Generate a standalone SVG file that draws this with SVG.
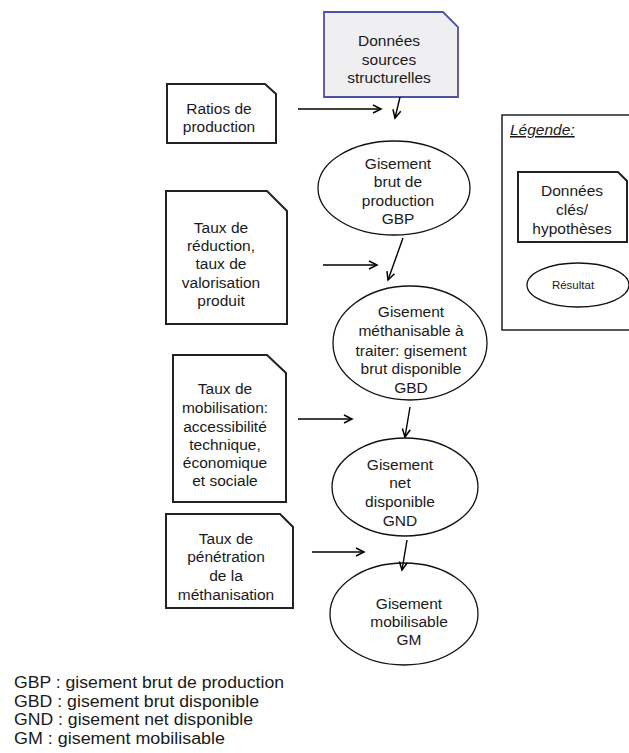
<svg xmlns="http://www.w3.org/2000/svg" width="629" height="753" viewBox="0 0 629 753">
<defs>
<marker id="arr" markerWidth="12" markerHeight="12" refX="9" refY="5" orient="auto" markerUnits="userSpaceOnUse">
<path d="M1,1 L9,5 L1,9" fill="none" stroke="#000" stroke-width="1.5"/>
</marker>
<style>
.doc{fill:#fff;stroke:#222;stroke-width:2}
.src{fill:#efeff2;stroke:#5050a8;stroke-width:1.8}
.ell{fill:#fff;stroke:#111;stroke-width:1.3}
.t{font-family:"Liberation Sans",Arial,sans-serif;font-size:15.5px;fill:#1a1a1a;text-anchor:middle;dominant-baseline:central}
.c{fill:none;stroke:#000;stroke-width:1.4;marker-end:url(#arr)}
.leg{font-family:"Liberation Sans",Arial,sans-serif;font-size:15.6px;fill:#1a1a1a}
</style>
</defs>
<rect width="629" height="753" fill="#fff"/>

<g id="n-sources">
<path class="src" d="M324,12 H443 L458,27 V97 H324 Z"/>
<text class="t" x="389" y="40">Données</text>
<text class="t" x="389" y="59">sources</text>
<text class="t" x="389" y="77">structurelles</text>
</g>

<g id="n-ratios">
<path class="doc" d="M167,84 H265 L276,94 V143 H167 Z"/>
<text class="t" x="219" y="108">Ratios de</text>
<text class="t" x="219" y="126">production</text>
</g>

<g id="n-gbp">
<ellipse class="ell" cx="394" cy="188" rx="76" ry="47"/>
<text class="t" x="398" y="163">Gisement</text>
<text class="t" x="398" y="181">brut  de</text>
<text class="t" x="398" y="200">production</text>
<text class="t" x="398" y="218">GBP</text>
</g>

<g id="n-reduction">
<path class="doc" d="M166,191 H267 L287,211 V324 H166 Z"/>
<text class="t" x="221" y="227">Taux de</text>
<text class="t" x="221" y="245">réduction,</text>
<text class="t" x="221" y="263">taux de</text>
<text class="t" x="221" y="282">valorisation</text>
<text class="t" x="221" y="300">produit</text>
</g>

<g id="n-gbd">
<ellipse class="ell" cx="410" cy="343" rx="77" ry="57"/>
<text class="t" x="411" y="311">Gisement</text>
<text class="t" x="411" y="330">méthanisable à</text>
<text class="t" x="411" y="350">traiter: gisement</text>
<text class="t" x="411" y="368">brut disponible</text>
<text class="t" x="411" y="387">GBD</text>
</g>

<g id="n-mobilisation">
<path class="doc" d="M173,355 H267 L286,373 V502 H173 Z"/>
<text class="t" x="225" y="388">Taux de</text>
<text class="t" x="225" y="407">mobilisation:</text>
<text class="t" x="225" y="426">accessibilité</text>
<text class="t" x="225" y="444">technique,</text>
<text class="t" x="225" y="462">économique</text>
<text class="t" x="225" y="480">et sociale</text>
</g>

<g id="n-gnd">
<ellipse class="ell" cx="405" cy="487" rx="73" ry="49"/>
<text class="t" x="400" y="464">Gisement</text>
<text class="t" x="400" y="482">net</text>
<text class="t" x="400" y="501">disponible</text>
<text class="t" x="400" y="520">GND</text>
</g>

<g id="n-penetration">
<path class="doc" d="M166,514 H280 L293,527 V608 H166 Z"/>
<text class="t" x="226" y="538">Taux de</text>
<text class="t" x="226" y="556">pénétration</text>
<text class="t" x="226" y="575">de la</text>
<text class="t" x="226" y="594">méthanisation</text>
</g>

<g id="n-gm">
<ellipse class="ell" cx="404" cy="614" rx="74" ry="51"/>
<text class="t" x="409" y="603">Gisement</text>
<text class="t" x="409" y="621">mobilisable</text>
<text class="t" x="409" y="639">GM</text>
</g>

<g id="connectors">
<line class="c" x1="298" y1="109" x2="381" y2="109"/>
<line class="c" x1="400" y1="97" x2="395" y2="118"/>
<line class="c" x1="323" y1="265" x2="377" y2="265"/>
<line class="c" x1="403" y1="238" x2="388" y2="280"/>
<line class="c" x1="298" y1="419" x2="352" y2="419"/>
<line class="c" x1="410" y1="407" x2="405" y2="437"/>
<line class="c" x1="312" y1="552" x2="364" y2="552"/>
<line class="c" x1="407" y1="540" x2="402" y2="570"/>
</g>

<g id="legend">
<rect x="502" y="115" width="140" height="215" fill="#fff" stroke="#222" stroke-width="1.5"/>
<text x="510" y="135" font-family="'Liberation Sans',Arial,sans-serif" font-size="15.5" font-style="italic" text-decoration="underline" fill="#1a1a1a">Légende:</text>
<g id="legend-doc">
<path class="doc" d="M518,172 H618 L627,181 V242 H518 Z"/>
<text class="t" x="572" y="190">Données</text>
<text class="t" x="572" y="209">clés/</text>
<text class="t" x="572" y="228">hypothèses</text>
</g>
<g id="legend-ell">
<ellipse class="ell" cx="578" cy="285" rx="51" ry="22"/>
<text class="t" x="573" y="285" style="font-size:11.5px">Résultat</text>
</g>
</g>

<g id="abbrev">
<text class="leg" x="14" y="688" textLength="270" lengthAdjust="spacingAndGlyphs">GBP : gisement brut de production</text>
<text class="leg" x="14" y="706.5" textLength="245" lengthAdjust="spacingAndGlyphs">GBD : gisement brut disponible</text>
<text class="leg" x="14" y="725" textLength="239" lengthAdjust="spacingAndGlyphs">GND : gisement net disponible</text>
<text class="leg" x="14" y="743.5" textLength="211" lengthAdjust="spacingAndGlyphs">GM : gisement mobilisable</text>
</g>
</svg>
